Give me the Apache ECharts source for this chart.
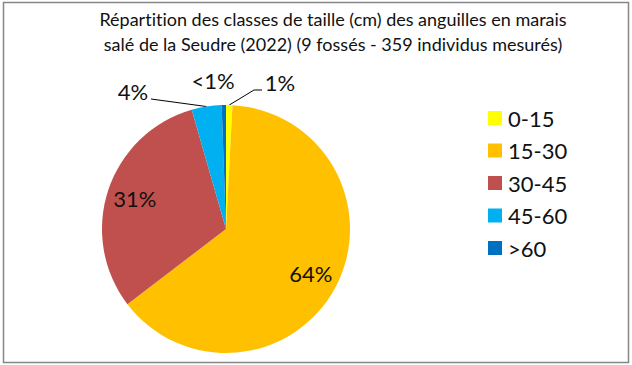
<!DOCTYPE html>
<html>
<head>
<meta charset="utf-8">
<script src="https://cdn.jsdelivr.net/npm/echarts@6/dist/echarts.min.js"></script>
<style>
html,body{margin:0;padding:0;background:#fff;}
#chart{width:632px;height:365px;font-variant-ligatures:none;}
#chart text{font-variant-ligatures:none;}
</style>
</head>
<body>
<div id="chart"></div>
<script>
// Data (counts; 359 individuals in total)
const categories = ['0-15', '15-30', '30-45', '45-60', '>60'];
const counts = [3, 229, 111, 14, 2];
const labelTexts = ['1%', '64%', '31%', '4%', '<1%'];
const colors = ['#FFFF00', '#FFC000', '#C0504D', '#00B0F0', '#0070C0'];
const titleLines = [
  'Répartition des classes de taille (cm) des anguilles en marais',
  'salé de la Seudre (2022) (9 fossés - 359 individus mesurés)'
];

const FONT = 'Lato, Carlito, "Liberation Sans", sans-serif';
const chart = echarts.init(document.getElementById('chart'), null, {renderer: 'svg'});

const pieData = categories.map((c, i) => ({name: c, value: counts[i], itemStyle: {color: colors[i]}}));
const insideSet = {1: true, 2: true};
const labelData = categories.map((c, i) => ({
  name: c,
  value: counts[i],
  label: {show: true, position: insideSet[i] ? 'inside' : 'outside'},
  labelLine: {show: !insideSet[i] && i !== 4}
}));

// custom outside label placement (mimicking Excel)
const outsidePlace = {
  0: {x: 280, y: 82, bend: [254, 90], end: [262, 90]},
  3: {x: 133, y: 91, bend: [151, 99], end: [151, 99]},
  4: {x: 213, y: 80}
};

chart.setOption({
  animation: false,
  backgroundColor: '#fff',
  title: {
    text: titleLines.join('\n'),
    left: 333,
    top: 6,
    textAlign: 'center',
    padding: 0,
    textStyle: {fontFamily: FONT, fontSize: 18, fontWeight: 'normal', color: '#111', lineHeight: 25}
  },
  legend: {
    orient: 'vertical',
    left: 488,
    top: 107,
    padding: 0,
    itemWidth: 14,
    itemHeight: 14,
    itemGap: 10.5,
    icon: 'rect',
    data: categories.map((c, i) => ({name: c, itemStyle: {color: colors[i]}})),
    textStyle: {fontFamily: FONT, fontSize: 22, lineHeight: 22, color: '#111', padding: [0, 0, 0, 1]}
  },
  graphic: [{
    type: 'rect',
    shape: {x: 3.5, y: 2.5, width: 625, height: 360},
    style: {fill: 'none', stroke: '#878787', lineWidth: 1.5},
    silent: true,
    z: 100
  }],
  series: [
    {
      type: 'pie',
      center: [226, 229],
      radius: 124,
      startAngle: 90,
      clockwise: true,
      label: {show: false},
      labelLine: {show: false},
      emphasis: {disabled: true},
      itemStyle: {borderWidth: 0},
      data: pieData
    },
    {
      type: 'pie',
      center: [226, 229],
      radius: [62, 124],
      startAngle: 90,
      clockwise: true,
      silent: true,
      legendHoverLink: false,
      emphasis: {disabled: true},
      itemStyle: {color: 'rgba(0,0,0,0)'},
      label: {
        fontFamily: FONT, fontSize: 22, color: '#111',
        formatter: p => labelTexts[p.dataIndex]
      },
      labelLine: {lineStyle: {color: '#000', width: 1}, length: 10, length2: 10},
      labelLayout: function (params) {
        const o = outsidePlace[params.dataIndex];
        if (!o) return {};
        const res = {x: o.x, y: o.y, align: 'center', verticalAlign: 'middle'};
        if (o.bend && params.labelLinePoints) {
          const s = params.labelLinePoints[0];
          res.labelLinePoints = [[s[0], s[1]], o.bend, o.end];
        }
        return res;
      },
      data: labelData
    }
  ]
});
</script>
</body>
</html>
